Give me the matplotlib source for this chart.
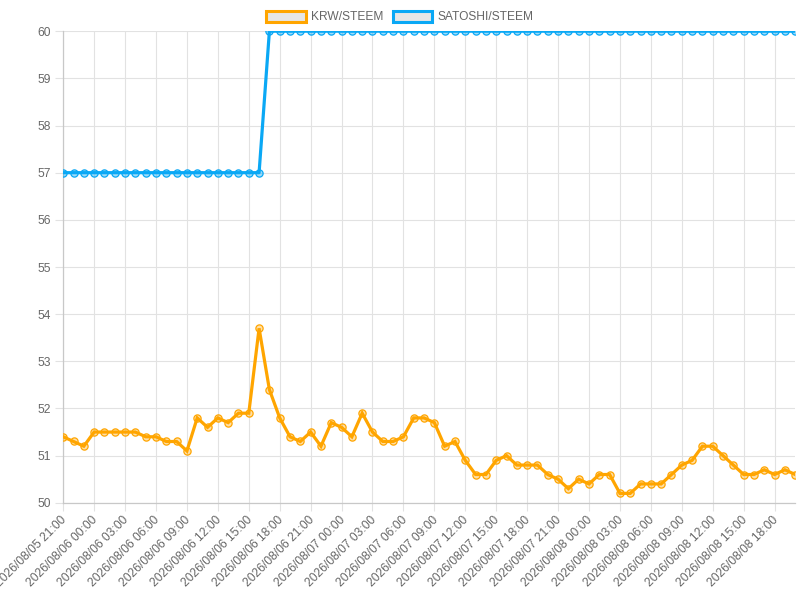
import matplotlib
matplotlib.use('Agg')
import matplotlib.pyplot as plt
from matplotlib.patches import Patch
from matplotlib.transforms import ScaledTranslation
import pandas as pd

# hourly prices, 2026/08/05 21:00 .. 2026/08/08 20:00
times = pd.date_range('2026-08-05 21:00', periods=72, freq='h')

krw_steem = [
    51.4, 51.3, 51.2, 51.5, 51.5, 51.5, 51.5, 51.5, 51.4, 51.4, 51.3, 51.3,
    51.1, 51.8, 51.6, 51.8, 51.7, 51.9, 51.9, 53.7, 52.4, 51.8, 51.4, 51.3,
    51.5, 51.2, 51.7, 51.6, 51.4, 51.9, 51.5, 51.3, 51.3, 51.4, 51.8, 51.8,
    51.7, 51.2, 51.3, 50.9, 50.6, 50.6, 50.9, 51.0, 50.8, 50.8, 50.8, 50.6,
    50.5, 50.3, 50.5, 50.4, 50.6, 50.6, 50.2, 50.2, 50.4, 50.4, 50.4, 50.6,
    50.8, 50.9, 51.2, 51.2, 51.0, 50.8, 50.6, 50.6, 50.7, 50.6, 50.7, 50.6,
]
satoshi_steem = [57] * 20 + [60] * 52

labels = [t.strftime('%Y/%m/%d %H:%M') for t in times]

plt.rcParams['font.family'] = ['Liberation Sans', 'DejaVu Sans']

orange = '#ffa500'
blue = '#0aa8f5'
grid_col = '#e2e2e2'
text_col = '#666666'
fs = 8.64  # 12px

fig = plt.figure(figsize=(8, 6), dpi=100)
ax = fig.add_axes([0.079, 0.162, 0.915, 0.786])

x = list(range(len(times)))
ax.plot(x, krw_steem, color=orange, lw=2.3, marker='o', ms=5.2,
        mfc=(1, 0.65, 0, 0.35), mec=orange, mew=0.9,
        solid_joinstyle='miter', zorder=3)
ax.plot(x, satoshi_steem, color=blue, lw=2.3, marker='o', ms=5.2,
        mfc=(0.04, 0.66, 0.96, 0.4), mec=blue, mew=0.9, zorder=3)

ax.set_xlim(0, len(x) - 1)
ax.set_ylim(50, 60)
ax.set_yticks(range(50, 61))
tick_pos = x[::3]
ax.set_xticks(tick_pos)
ax.set_xticklabels([labels[i] for i in tick_pos], rotation=45, ha='right',
                   va='center', rotation_mode='anchor')

ax.grid(True, color=grid_col, lw=0.8)
ax.set_axisbelow(True)
for side in ['top', 'right']:
    ax.spines[side].set_visible(False)
for side in ['left', 'bottom']:
    ax.spines[side].set_color('#c8c8c8')
    ax.spines[side].set_linewidth(0.9)
ax.tick_params(axis='both', colors=grid_col, labelcolor=text_col, labelsize=fs,
               length=6)
ax.tick_params(axis='x', pad=5)
ax.tick_params(axis='y', pad=3)

# nudge the rotated labels slightly right (after tick_params, which resets transforms)
shift = ScaledTranslation(1.2 / 72, 0, fig.dpi_scale_trans)
for lbl in ax.get_xticklabels():
    lbl.set_transform(lbl.get_transform() + shift)

handles = [Patch(facecolor='#e6e6e6', edgecolor=orange, lw=2.2, label='KRW/STEEM'),
           Patch(facecolor='#e6e6e6', edgecolor=blue, lw=2.2, label='SATOSHI/STEEM')]
fig.legend(handles=handles, loc='upper center', bbox_to_anchor=(0.5, 1.0),
           ncol=2, frameon=False, fontsize=fs, handlelength=3.3, handleheight=1.0,
           handletextpad=0.45, columnspacing=0.75, labelcolor=text_col)

fig.savefig('out.png', dpi=100)
